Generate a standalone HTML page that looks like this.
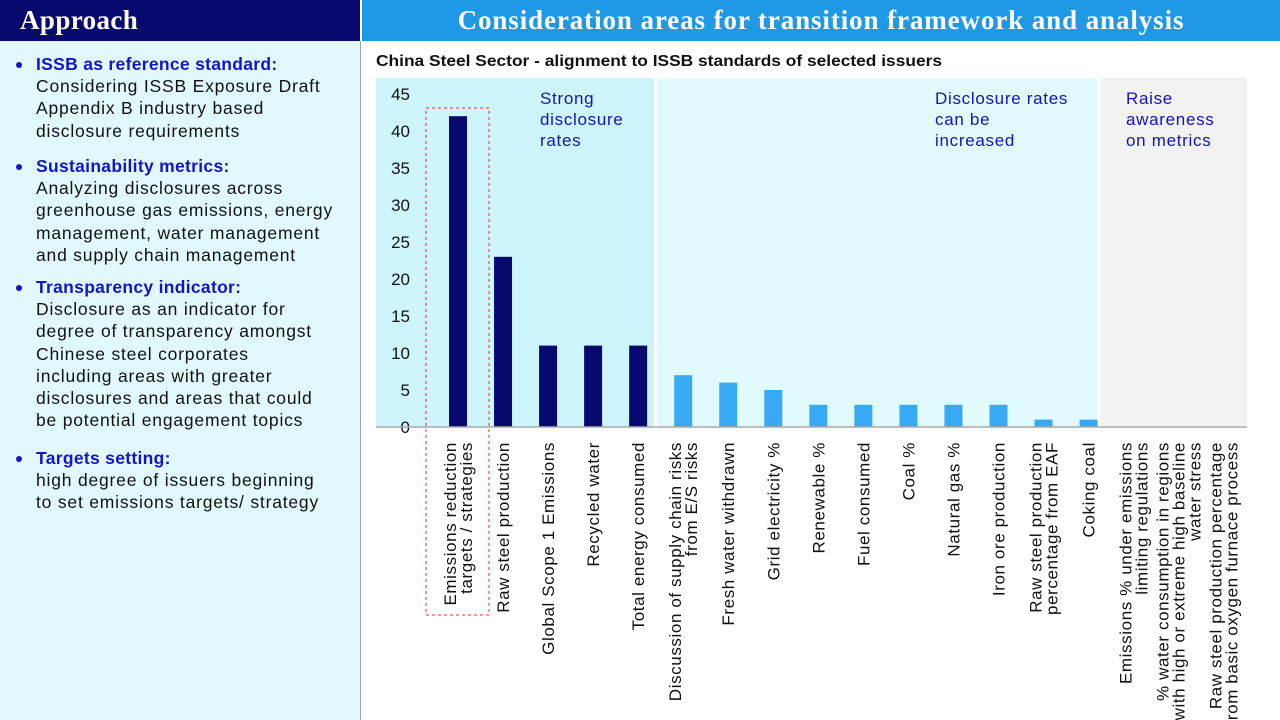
<!DOCTYPE html>
<html><head><meta charset="utf-8">
<style>
body{margin:0;width:1280px;height:720px;overflow:hidden;background:#fff;font-family:"Liberation Sans",Arial,sans-serif;position:relative}
.lh{position:absolute;left:0;top:0;width:360px;height:41px;background:#07096e;color:#fff;font-family:"Liberation Serif",serif;font-weight:bold;font-size:27px;letter-spacing:0.4px;line-height:41px;padding-left:20px;box-sizing:border-box}
.rh{position:absolute;left:362px;top:0;width:918px;height:41px;background:#1f98e6;color:#fff;font-family:"Liberation Serif",serif;font-weight:bold;font-size:27px;letter-spacing:0.9px;line-height:40px;text-align:center}
.lp{position:absolute;left:0;top:41px;width:360px;height:679px;background:#e1f9fd;border-right:1px solid #9aa}
.b{position:absolute;left:36px;font-size:17.5px;letter-spacing:0.8px;line-height:22.2px;color:#111;width:324px;white-space:nowrap}
.b h4{margin:0;color:#1414c8;font-size:17.5px;font-weight:bold;letter-spacing:0.3px}
.b:before{content:"";position:absolute;left:-20px;top:9px;width:6px;height:6px;border-radius:3px;background:#1414c8}
</style></head><body>
<div class="lh">Approach</div>
<div class="rh">Consideration areas for transition framework and analysis</div>
<div class="lp">
<div class="b" style="top:12px"><h4>ISSB as reference standard:</h4>Considering ISSB Exposure Draft<br>Appendix B industry based<br>disclosure requirements</div>
<div class="b" style="top:114px"><h4>Sustainability metrics:</h4>Analyzing disclosures across<br>greenhouse gas emissions, energy<br>management, water management<br>and supply chain management</div>
<div class="b" style="top:235px"><h4>Transparency indicator:</h4>Disclosure as an indicator for<br>degree of transparency amongst<br>Chinese steel corporates<br>including areas with greater<br>disclosures and areas that could<br>be potential engagement topics</div>
<div class="b" style="top:406px"><h4>Targets setting:</h4>high degree of issuers beginning<br>to set emissions targets/ strategy</div>
</div>
<svg id="c" width="1280" height="720" style="position:absolute;left:0;top:0" font-family="Liberation Sans, Arial, sans-serif">
<text x="376" y="66" font-size="16" font-weight="bold" fill="#111" textLength="566" lengthAdjust="spacingAndGlyphs">China Steel Sector - alignment to ISSB standards of selected issuers</text>
<rect x="376" y="78" width="278" height="349" fill="#cdf5fb"/>
<rect x="657" y="78" width="440" height="349" fill="#e0fafd"/>
<rect x="1101" y="78" width="146" height="349" fill="#f2f2f2"/>
<g font-size="17" fill="#1414b4" letter-spacing="0.7">
<text x="540" y="104"><tspan x="540">Strong</tspan><tspan x="540" dy="21">disclosure</tspan><tspan x="540" dy="21">rates</tspan></text>
<text x="935" y="104"><tspan x="935">Disclosure rates</tspan><tspan x="935" dy="21">can be</tspan><tspan x="935" dy="21">increased</tspan></text>
<text x="1126" y="104"><tspan x="1126">Raise</tspan><tspan x="1126" dy="21">awareness</tspan><tspan x="1126" dy="21">on metrics</tspan></text>
</g>
<g id="g"></g>
<line x1="376" y1="427" x2="1247" y2="427" stroke="#aaa" stroke-width="1.5"/>
<rect x="426" y="108" width="63" height="507" fill="none" stroke="#e53030" stroke-width="1" stroke-dasharray="3,3"/>
</svg>
<script>
const categories=[["Emissions reduction","targets / strategies"],["Raw steel production"],["Global Scope 1 Emissions"],["Recycled water"],["Total energy consumed"],["Discussion of supply chain risks","from E/S risks"],["Fresh water withdrawn"],["Grid electricity %"],["Renewable %"],["Fuel consumed"],["Coal %"],["Natural gas %"],["Iron ore production"],["Raw steel production","percentage from EAF"],["Coking coal"],["Emissions % under emissions","limiting regulations"],["%  water consumption in regions","with  high or extreme high baseline","water  stress"],["Raw steel production percentage","from basic oxygen furnace process"]];
const values=[42,23,11,11,11,7,6,5,3,3,3,3,3,1,1,0,0,0];
const strongCount=5;
const yTicks=[0,5,10,15,20,25,30,35,40,45];
const ns="http://www.w3.org/2000/svg",g=document.getElementById('g');
const y=v=>427-v*(333/45);
const x=i=>458+i*45.04;
function mk(t,a){const e=document.createElementNS(ns,t);for(const k in a)e.setAttribute(k,a[k]);g.appendChild(e);return e;}
yTicks.forEach(v=>{const t=mk('text',{x:410,y:y(v)+6,'text-anchor':'end','font-size':17,fill:'#111'});t.textContent=v;

});
values.forEach((v,i)=>{const r=mk('rect',{x:x(i)-9,y:y(v),width:18,height:427-y(v),fill:i<strongCount?'#07096e':'#38aaf3'});


const lines=categories[i];const t=mk('text',{transform:`translate(${x(i)},442) rotate(-90)`,'text-anchor':'end','font-size':17,'letter-spacing':'0.6',fill:'#111'});


const n=lines.length;lines.forEach((s,j)=>{const ts=document.createElementNS(ns,'tspan');ts.setAttribute('x',0);ts.setAttribute('y',(j-(n-1)/2)*16+6);ts.textContent=s;t.appendChild(ts);});});
</script>
</body></html>
